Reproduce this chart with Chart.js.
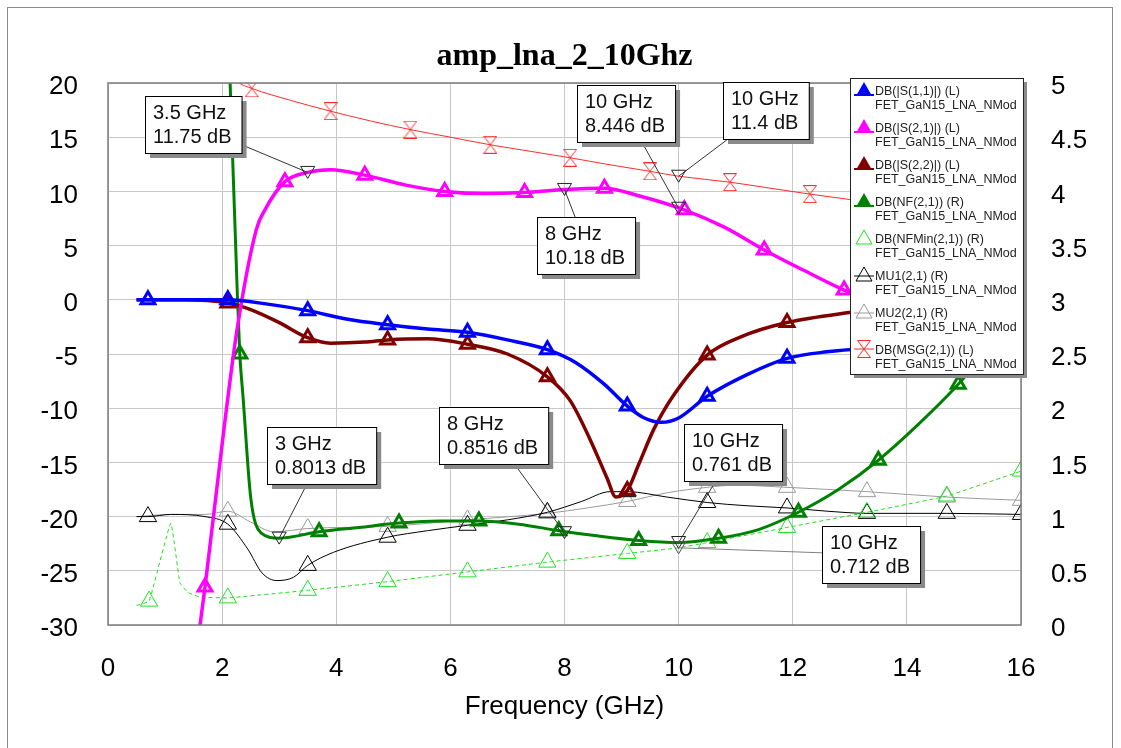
<!DOCTYPE html>
<html>
<head>
<meta charset="utf-8">
<title>amp_lna_2_10Ghz</title>
<script src="https://cdn.jsdelivr.net/npm/chart.js@4.4.1/dist/chart.umd.min.js"></script>
<style>
  html, body { margin: 0; padding: 0; background: #fff; }
  #wrap { width: 1121px; height: 748px; }
</style>
</head>
<body>
<div id="wrap"><canvas id="lnaChart" width="1121" height="748"></canvas></div>
<script>
const chartTitle = 'amp_lna_2_10Ghz';
const modelName = 'FET_GaN15_LNA_NMod';

// S11, left axis (dB)
const s11Freq = [0.5, 0.7, 1.4, 2.1, 2.8, 3.5, 4.2, 4.9, 5.6, 6.3, 7.0, 7.7, 8.2, 8.7, 9.1, 9.4, 9.7, 10.0, 10.5, 11.2, 11.9, 12.6, 13.3, 14.7, 16.0];
const s11Db   = [0, 0, 0, 0, -0.4, -1.0, -1.8, -2.3, -2.7, -3.0, -3.7, -4.6, -5.8, -7.8, -9.8, -10.9, -11.3, -10.9, -8.9, -6.9, -5.4, -4.8, -4.5, -4.2, -4.0];
const s11Marks = [0.7, 2.1, 3.5, 4.9, 6.3, 7.7, 9.1, 10.5, 11.9, 13.3, 14.7];

// S21, left axis (dB)
const s21Freq = [1.5, 1.7, 2.03, 2.26, 2.6, 2.75, 3.1, 3.5, 3.9, 4.5, 5.2, 5.9, 6.6, 7.3, 8.0, 8.7, 9.3, 10.1, 10.8, 11.5, 12.2, 12.9, 13.6, 14.3, 15.0, 16.0];
const s21Db   = [-34.5, -26.5, -12.0, -2.8, 6.5, 8.3, 10.9, 11.75, 12.0, 11.5, 10.6, 10.0, 9.8, 9.9, 10.18, 10.3, 9.6, 8.3, 6.7, 4.6, 2.7, 0.9, -0.5, -1.5, -2.3, -3.2];
const s21Marks = [1.7, 3.1, 4.5, 5.9, 7.3, 8.7, 10.1, 11.5, 12.9, 14.3];

// S22, left axis (dB)
const s22Freq = [0.5, 1.3, 2.1, 2.5, 3.0, 3.5, 3.9, 4.5, 4.9, 5.6, 6.3, 7.0, 7.7, 8.1, 8.45, 8.75, 8.9, 9.1, 9.3, 9.56, 9.9, 10.5, 11.1, 11.9, 12.95, 13.3, 14.7, 16.0];
const s22Db   = [0, 0, -0.3, -0.9, -2.1, -3.5, -4.0, -3.9, -3.7, -3.6, -4.1, -5.0, -7.1, -9.3, -12.9, -16.5, -18.2, -17.6, -15.2, -12.0, -8.9, -5.1, -3.4, -2.1, -1.2, -1.0, -0.7, -0.5];
const s22Marks = [2.1, 3.5, 4.9, 6.3, 7.7, 9.1, 10.5, 11.9, 13.3, 14.7];

// NF, right axis (dB)
const nfFreq = [2.0, 2.14, 2.27, 2.31, 2.37, 2.5, 2.68, 3.0, 3.7, 4.4, 5.1, 5.8, 6.5, 7.2, 7.9, 8.6, 9.3, 10.0, 10.7, 11.4, 12.1, 12.8, 13.5, 14.2, 14.9, 15.5, 16.0];
const nfDb   = [7.0, 5.0, 3.0, 2.5, 2.08, 1.18, 0.85, 0.8013, 0.86, 0.9, 0.94, 0.96, 0.96, 0.93, 0.87, 0.82, 0.78, 0.761, 0.8, 0.88, 1.04, 1.25, 1.52, 1.85, 2.22, 2.6, 2.95];
const nfMarks = [2.31, 3.7, 5.1, 6.5, 7.9, 9.3, 10.7, 12.1, 13.5, 14.9];

// NFMin, right axis (dB)
const nfminFreq = [0.5, 0.72, 1.1, 1.26, 1.4, 1.6, 2.1, 3.5, 4.9, 6.3, 7.7, 9.1, 10.0, 10.5, 11.9, 13.3, 14.7, 16.0];
const nfminDb   = [0.18, 0.22, 0.94, 0.39, 0.3, 0.26, 0.25, 0.32, 0.4, 0.49, 0.58, 0.66, 0.712, 0.76, 0.9, 1.04, 1.19, 1.42];
const nfminMarks = [0.72, 2.1, 3.5, 4.9, 6.3, 7.7, 9.1, 10.5, 11.9, 13.3, 14.7, 16.0];

// MU1, right axis
const mu1Freq = [0.5, 0.7, 1.1, 1.7, 2.1, 2.45, 2.7, 2.96, 3.25, 3.5, 3.95, 4.9, 5.6, 6.3, 7.0, 7.7, 8.3, 8.8, 9.1, 9.8, 10.5, 11.2, 11.9, 12.6, 13.3, 14.7, 16.0];
const mu1Val  = [1.0, 1.0, 1.02, 1.0, 0.93, 0.7, 0.48, 0.41, 0.44, 0.55, 0.67, 0.81, 0.87, 0.92, 0.97, 1.04, 1.14, 1.23, 1.23, 1.18, 1.13, 1.1, 1.08, 1.05, 1.03, 1.03, 1.02];
const mu1Marks = [0.7, 2.1, 3.5, 4.9, 6.3, 7.7, 9.1, 10.5, 11.9, 13.3, 14.7, 16.0];

// MU2, right axis
const mu2Freq = [0.5, 1.1, 1.7, 2.1, 2.5, 2.9, 3.5, 4.9, 6.3, 7.7, 8.4, 9.1, 9.8, 10.5, 11.0, 11.9, 13.3, 14.7, 16.0];
const mu2Val  = [1.0, 1.02, 1.02, 1.05, 0.95, 0.86, 0.89, 0.91, 0.97, 1.03, 1.08, 1.14, 1.22, 1.27, 1.29, 1.27, 1.23, 1.18, 1.15];
const mu2Marks = [2.1, 3.5, 4.9, 6.3, 7.7, 9.1, 10.5, 11.9, 13.3, 14.7, 16.0];

// MSG, left axis (dB)
const msgFreq = [2.1, 2.3, 2.52, 3.2, 3.9, 4.6, 5.3, 6.0, 6.7, 7.4, 8.1, 8.8, 9.5, 10.0, 10.9, 11.6, 12.3, 13.0, 13.7, 15.1, 16.0];
const msgDb   = [21.0, 20.0, 19.5, 18.4, 17.4, 16.5, 15.7, 15.0, 14.3, 13.7, 13.1, 12.45, 11.85, 11.4, 10.85, 10.3, 9.75, 9.25, 8.8, 8.0, 7.6];
const msgMarks = [2.52, 3.9, 5.3, 6.7, 8.1, 9.5, 10.9, 12.3, 13.7, 15.1];

// marker readouts
const markFreq = [3.5, 10, 10, 8, 3, 8, 10, 10];
const markVal  = [11.75, 8.446, 11.4, 10.18, 0.8013, 0.8516, 0.761, 0.712];
const markAxis = ['y', 'y', 'y', 'y', 'y2', 'y2', 'y2', 'y2'];

// where the readout boxes sit (top-left, px)
const boxAt = [[145, 96], [577, 85], [723, 82], [537, 217], [267, 427], [439, 407], [684, 424], [822, 526]];

const FONT = '"Liberation Sans", Arial, sans-serif';

const hourglass = (() => {
  const c = document.createElement('canvas');
  c.width = 14; c.height = 18;
  const g = c.getContext('2d');
  g.strokeStyle = '#ff2a2a';
  g.lineWidth = 1;
  g.beginPath();
  g.moveTo(0.5, 0.5); g.lineTo(13.5, 0.5);
  g.moveTo(0.5, 17.5); g.lineTo(13.5, 17.5);
  g.moveTo(0.5, 0.5); g.lineTo(13.5, 17.5);
  g.moveTo(13.5, 0.5); g.lineTo(0.5, 17.5);
  g.stroke();
  return c;
})();

function series(label, freq, vals, axis, color, width, marks, extra) {
  const thick = width > 2;
  return Object.assign({
    label: label,
    data: freq.map((f, i) => ({ x: f, y: vals[i] })),
    yAxisID: axis,
    borderColor: color,
    borderWidth: width,
    fill: false,
    cubicInterpolationMode: 'monotone',
    pointStyle: 'triangle',
    pointRadius: ctx => (ctx.raw && marks.includes(ctx.raw.x)) ? (thick ? 8 : 10) : 0,
    pointBorderColor: color,
    pointBackgroundColor: 'rgba(255,255,255,0)',
    pointBorderWidth: thick ? 3 : 1
  }, extra || {});
}

const datasets = [
  series('DB(|S(1,1)|) (L)', s11Freq, s11Db, 'y', '#0000ff', 3.5, s11Marks),
  series('DB(|S(2,1)|) (L)', s21Freq, s21Db, 'y', '#ff00ff', 3.5, s21Marks),
  series('DB(|S(2,2)|) (L)', s22Freq, s22Db, 'y', '#800000', 3.5, s22Marks),
  series('DB(NF(2,1)) (R)', nfFreq, nfDb, 'y2', '#008000', 3, nfMarks),
  series('DB(NFMin(2,1)) (R)', nfminFreq, nfminDb, 'y2', '#22e022', 1, nfminMarks,
         { cubicInterpolationMode: 'default', tension: 0.1, borderDash: [4, 3] }),
  series('MU1(2,1) (R)', mu1Freq, mu1Val, 'y2', '#000000', 1, mu1Marks),
  series('MU2(2,1) (R)', mu2Freq, mu2Val, 'y2', '#9a9a9a', 1, mu2Marks),
  series('DB(MSG(2,1)) (L)', msgFreq, msgDb, 'y', '#ff2a2a', 1, msgMarks, { pointStyle: hourglass })
];

function legendIcon(ctx, ds, x, y) {
  const thick = ds.borderWidth > 2;
  ctx.strokeStyle = ds.borderColor;
  ctx.fillStyle = ds.borderColor;
  ctx.lineWidth = thick ? 2 : 1;
  if (ds.pointStyle === hourglass) {
    ctx.drawImage(hourglass, x - 7, y - 9);
    ctx.beginPath(); ctx.moveTo(x - 10, y); ctx.lineTo(x + 10, y); ctx.stroke();
    return;
  }
  ctx.beginPath();
  ctx.moveTo(x, y - 8); ctx.lineTo(x + 8, y + 6); ctx.lineTo(x - 8, y + 6); ctx.closePath();
  if (thick) { ctx.fill(); } else { ctx.stroke(); }
  if (!ds.borderDash) {
    ctx.beginPath();
    const ly = thick ? y + 5 : y + 1;
    ctx.moveTo(x - 10, ly); ctx.lineTo(x + 10, ly); ctx.stroke();
  }
}

const decorations = {
  id: 'decorations',
  afterDraw(chart) {
    const { ctx, chartArea: a, scales } = chart;
    ctx.save();

    // plot frame
    ctx.strokeStyle = '#7c7c7c';
    ctx.lineWidth = 1.5;
    ctx.strokeRect(a.left, a.top, a.right - a.left, a.bottom - a.top);

    // marker readouts
    ctx.font = '20px ' + FONT;
    markFreq.forEach((f, i) => {
      const px = scales.x.getPixelForValue(f);
      const py = scales[markAxis[i]].getPixelForValue(markVal[i]);
      const l1 = f + ' GHz';
      const l2 = markVal[i] + ' dB';
      const w = Math.max(ctx.measureText(l1).width, ctx.measureText(l2).width) + 18;
      const h = 57;
      const [bx, by] = boxAt[i];
      const cx = bx + w / 2, cy = by + h / 2;
      const dx = px - cx, dy = py - cy;
      const t = Math.min(Math.abs(w / 2 / dx), Math.abs(h / 2 / dy));
      const gray = i === 7;

      ctx.strokeStyle = gray ? '#808080' : '#333';
      ctx.lineWidth = 1;
      ctx.beginPath();
      ctx.moveTo(cx + dx * t, cy + dy * t);
      ctx.lineTo(px, py);
      ctx.stroke();

      ctx.strokeStyle = gray ? '#555' : '#222';
      ctx.beginPath();
      ctx.moveTo(px - 7, py - 6); ctx.lineTo(px + 7, py - 6); ctx.lineTo(px, py + 6); ctx.closePath();
      ctx.stroke();

      ctx.fillStyle = '#8a8a8a';
      ctx.fillRect(bx + 5, by + 5, w, h);
      ctx.fillStyle = '#fff';
      ctx.fillRect(bx, by, w, h);
      ctx.strokeStyle = '#000';
      ctx.strokeRect(bx + 0.5, by + 0.5, w, h);
      ctx.fillStyle = '#111';
      ctx.textAlign = 'left';
      ctx.textBaseline = 'middle';
      ctx.fillText(l1, bx + 8, by + 17);
      ctx.fillText(l2, bx + 8, by + 41);
    });

    // legend box
    const lw = 173, lh = 296;
    const lx = a.right + 2 - lw, ly = a.top - 5;
    ctx.fillStyle = '#8a8a8a';
    ctx.fillRect(lx + 4, ly + 4, lw, lh);
    ctx.fillStyle = '#fff';
    ctx.fillRect(lx, ly, lw, lh);
    ctx.strokeStyle = '#222';
    ctx.lineWidth = 1;
    ctx.strokeRect(lx + 0.5, ly + 0.5, lw, lh);
    ctx.font = '12.5px ' + FONT;
    ctx.textAlign = 'left';
    ctx.textBaseline = 'middle';
    chart.data.datasets.forEach((ds, i) => {
      const ey = ly + 14 + i * 37;
      legendIcon(ctx, ds, lx + 14, ey - 2);
      ctx.fillStyle = '#222';
      ctx.fillText(ds.label, lx + 25, ey);
      ctx.fillText(modelName, lx + 25, ey + 14);
    });

    // title
    ctx.fillStyle = '#000';
    ctx.font = 'bold 32px "Liberation Serif", "Times New Roman", serif';
    ctx.textAlign = 'center';
    ctx.textBaseline = 'alphabetic';
    ctx.fillText(chartTitle, (a.left + a.right) / 2, 65);

    // outer frame
    ctx.strokeStyle = '#8c8c8c';
    ctx.lineWidth = 1;
    ctx.strokeRect(7.5, 7.5, 1105, 800);
    ctx.restore();
  }
};

const tickFont = { family: FONT, size: 26 };

new Chart(document.getElementById('lnaChart'), {
  type: 'line',
  data: { datasets: datasets },
  options: {
    responsive: false,
    animation: false,
    events: [],
    layout: { padding: { top: 83 } },
    plugins: {
      legend: { display: false },
      tooltip: { enabled: false },
      title: { display: false }
    },
    scales: {
      x: {
        type: 'linear',
        min: 0,
        max: 16,
        ticks: { stepSize: 2, padding: 28, color: '#000', font: tickFont },
        grid: { color: '#c8c8c8', drawTicks: false },
        border: { display: false },
        title: { display: true, text: 'Frequency (GHz)', color: '#000', font: tickFont, padding: { top: 0, bottom: 26 } },
        afterFit: s => { s.height = 123; }
      },
      y: {
        position: 'left',
        min: -30,
        max: 20,
        ticks: { stepSize: 5, padding: 30, labelOffset: 4, color: '#000', font: tickFont },
        grid: { color: '#c8c8c8', drawTicks: false },
        border: { display: false },
        afterFit: s => { s.width = 108; }
      },
      y2: {
        position: 'right',
        min: 0,
        max: 5,
        ticks: { stepSize: 0.5, padding: 30, labelOffset: 4, color: '#000', font: tickFont, callback: v => String(v) },
        grid: { drawOnChartArea: false, drawTicks: false },
        border: { display: false },
        afterFit: s => { s.width = 100; }
      }
    }
  },
  plugins: [decorations]
});
</script>
</body>
</html>
